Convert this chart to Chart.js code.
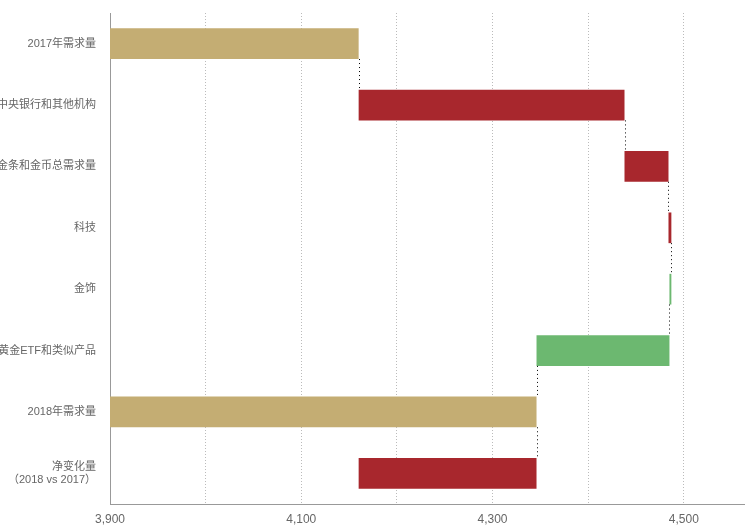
<!DOCTYPE html>
<html>
<head>
<meta charset="utf-8">
<script src="https://cdn.jsdelivr.net/npm/chart.js@4/dist/chart.umd.min.js"></script>
<style>
html,body{margin:0;padding:0;background:#fff;}
#wrap{width:745px;height:529px;position:relative;}
</style>
</head>
<body>
<div id="wrap"><canvas id="c" width="745" height="529"></canvas></div>
<script>
// ---- data ----
const categories = ["2017年需求量", "中央银行和其他机构", "金条和金币总需求量", "科技", "金饰", "黄金ETF和类似产品", "2018年需求量", ["净变化量", "（2018 vs 2017）"]];
const demand2017 = 4160;
const changes = [278, 46, 3, -2, -139];   // 中央银行, 金条金币, 科技, 金饰, ETF
const demand2018 = 4346;
const tickValues = [3900, 4000, 4100, 4200, 4300, 4400, 4500];
const labeledTicks = [3900, 4100, 4300, 4500];

// ---- build floating ranges ----
const ranges = [];
const colors = [];
const GOLD = '#C4AD73', RED = '#A8272D', GREEN = '#6CB870';
ranges.push([3900, demand2017]); colors.push(GOLD);
let run = demand2017;
const connectVals = [demand2017];
changes.forEach(c => {
  ranges.push([run, run + c]);
  colors.push(c >= 0 ? RED : GREEN);
  run += c;
  connectVals.push(run);
});
ranges.push([3900, demand2018]); colors.push(GOLD);
connectVals.push(demand2018);
ranges.push([demand2017, demand2018]); colors.push(demand2018 >= demand2017 ? RED : GREEN);

const connectors = {
  id: 'connectors',
  afterDatasetsDraw(chart) {
    const meta = chart.getDatasetMeta(0);
    const xs = chart.scales.x;
    const ctx = chart.ctx;
    ctx.save();
    ctx.strokeStyle = '#000';
    ctx.lineWidth = 1;
    ctx.setLineDash([1, 3]);
    for (let i = 0; i < meta.data.length - 1; i++) {
      const a = meta.data[i], b = meta.data[i + 1];
      const x = Math.round(xs.getPixelForValue(connectVals[i])) + 0.5;
      const y1 = a.y + a.height / 2;
      const y2 = b.y - b.height / 2;
      ctx.beginPath();
      ctx.moveTo(x, y1);
      ctx.lineTo(x, y2);
      ctx.stroke();
    }
    ctx.restore();
  }
};

const FONT = '"Liberation Sans", Arial, "Noto Sans CJK SC", sans-serif';

new Chart(document.getElementById('c'), {
  type: 'bar',
  data: {
    labels: categories,
    datasets: [{
      data: ranges,
      backgroundColor: colors,
      borderWidth: 0,
      barPercentage: 0.5,
      categoryPercentage: 1.0
    }]
  },
  options: {
    indexAxis: 'y',
    responsive: false,
    animation: false,
    layout: { autoPadding: false, padding: { top: 13, right: 0, bottom: 0, left: 0 } },
    plugins: { legend: { display: false }, tooltip: { enabled: false } },
    scales: {
      x: {
        min: 3900,
        max: 4564,
        afterBuildTicks(scale) { scale.ticks = tickValues.map(v => ({ value: v })); },
        afterFit(scale) { scale.height = 25; },
        grid: {
          color: '#bbbbbb',
          drawTicks: false,
          lineWidth: 1
        },
        border: { display: true, color: '#999999', dash: [1, 2], width: 1 },
        ticks: {
          padding: 8,
          color: '#666666',
          font: { family: FONT, size: 12 },
          maxRotation: 0,
          autoSkip: false,
          callback(v) { return labeledTicks.includes(v) ? v.toLocaleString('en-US') : ''; }
        }
      },
      y: {
        afterFit(scale) { scale.width = 110; scale.paddingTop = 0; scale.paddingBottom = 0; },
        grid: { display: false, drawTicks: false },
        border: { display: true, color: '#999999', width: 1 },
        ticks: {
          padding: 14,
          color: '#666666',
          font: { family: FONT, size: 11 }
        }
      }
    }
  },
  plugins: [connectors, {
    id: 'xborder',
    afterDraw(chart) {
      const a = chart.chartArea, ctx = chart.ctx;
      ctx.save();
      ctx.strokeStyle = '#999999';
      ctx.lineWidth = 1;
      ctx.beginPath();
      ctx.moveTo(a.left, Math.round(a.bottom) + 0.5);
      ctx.lineTo(chart.width, Math.round(a.bottom) + 0.5);
      ctx.stroke();
      ctx.restore();
    }
  }]
});
</script>
</body>
</html>
